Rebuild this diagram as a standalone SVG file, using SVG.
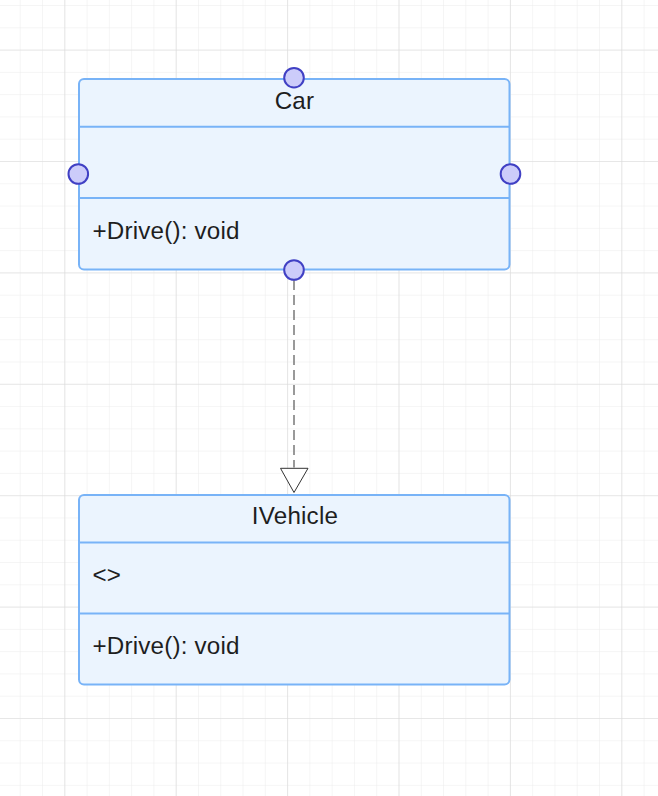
<svg xmlns="http://www.w3.org/2000/svg" width="658" height="796" viewBox="0 0 658 796">
  <defs>
    <pattern id="minor" x="64.3" y="49.6" width="22.28" height="22.28" patternUnits="userSpaceOnUse">
      <path d="M0 0 H22.28 M0 0 V22.28" fill="none" stroke="#ebebeb" stroke-width="1"/>
    </pattern>
    <pattern id="major" x="64.3" y="49.6" width="111.4" height="111.4" patternUnits="userSpaceOnUse">
      <path d="M0 0 H111.4 M0 0 V111.4" fill="none" stroke="#dadada" stroke-width="1.2"/>
    </pattern>
  </defs>
  <style>
    .box { fill: #ebf4fe; stroke: #78b3f7; stroke-width: 2; }
    .div { stroke: #78b3f7; stroke-width: 2; }
    .t { font-family: "Liberation Sans", Arial, sans-serif; font-size: 24.2px; letter-spacing: 0.2px; fill: #1e1e1e; }
    .c { text-anchor: middle; }
    .port { fill: #ccccfa; stroke: #4040c4; stroke-width: 2; }
    .edge { fill: none; stroke: #808080; stroke-width: 1.6; stroke-dasharray: 10 5; }
  </style>
  <rect width="658" height="796" fill="#ffffff"/>
  <rect width="658" height="796" fill="url(#minor)"/>
  <rect width="658" height="796" fill="url(#major)"/>

  <g id="connectors">
    <path class="edge" d="M294 280 V467.5"/>
    <path d="M280.5 468.3 L308 468.3 L294 492.5 Z" fill="#ffffff" stroke="#333333" stroke-width="1"/>
  </g>

  <g id="node-car">
    <rect class="box" x="79" y="79" width="430.5" height="190.5" rx="5"/>
    <line class="div" x1="79" y1="126.7" x2="509.5" y2="126.7"/>
    <line class="div" x1="79" y1="198" x2="509.5" y2="198"/>
    <text class="t c" x="294.5" y="108.5">Car</text>
    <text class="t" x="92.4" y="238.5">+Drive(): void</text>
    <circle class="port" cx="294" cy="77.7" r="9.8"/>
    <circle class="port" cx="78.3" cy="174" r="9.8"/>
    <circle class="port" cx="510.5" cy="174" r="9.8"/>
    <circle class="port" cx="294" cy="270" r="9.8"/>
  </g>

  <g id="node-ivehicle">
    <rect class="box" x="79" y="495" width="430.5" height="189.5" rx="5"/>
    <line class="div" x1="79" y1="542.5" x2="509.5" y2="542.5"/>
    <line class="div" x1="79" y1="613.5" x2="509.5" y2="613.5"/>
    <text class="t c" x="295" y="523.5">IVehicle</text>
    <text class="t" x="92.4" y="583">&lt;&gt;</text>
    <text class="t" x="92.4" y="654">+Drive(): void</text>
  </g>
</svg>
